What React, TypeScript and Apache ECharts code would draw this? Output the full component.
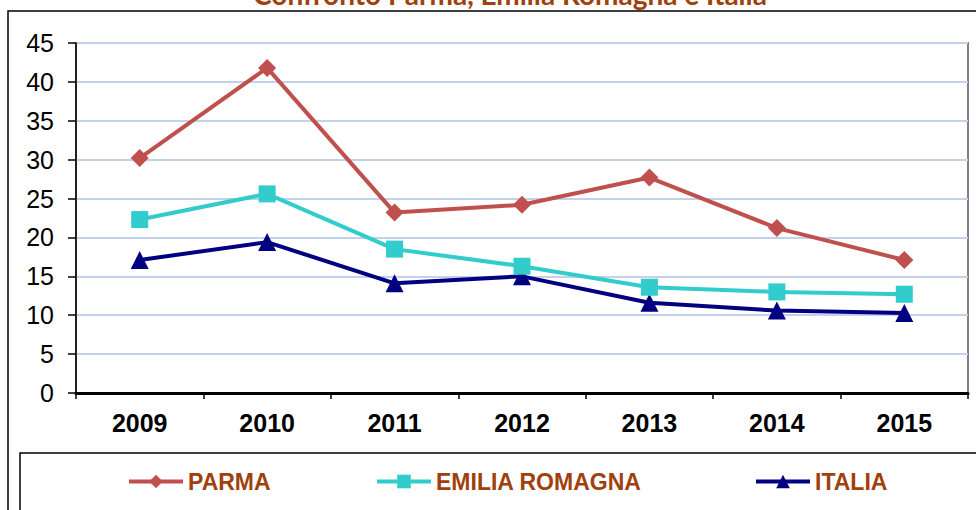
import React, { useEffect, useRef } from "react";
import * as echarts from "echarts";

const title = "Confronto Parma, Emilia Romagna e Italia";
const years = ["2009", "2010", "2011", "2012", "2013", "2014", "2015"];
const parma = [30.2, 41.8, 23.2, 24.2, 27.7, 21.2, 17.1];
const emilia = [22.3, 25.6, 18.5, 16.3, 13.6, 13.0, 12.7];
const italia = [17.1, 19.4, 14.1, 15.0, 11.6, 10.6, 10.3];
const seriesNames = ["PARMA", "EMILIA ROMAGNA", "ITALIA"];
const colors = ["#C0504D", "#33CCCC", "#000080"];
const symbols = ["diamond", "rect", "triangle"];

export default function App() {
  const ref = useRef<HTMLDivElement>(null);
  useEffect(() => {
    const chart = echarts.init(ref.current!, null, { renderer: "svg" });
    const data = [parma, emilia, italia];
    const legendLefts = [122, 370, 749];
    const font = "'Liberation Sans', Arial, sans-serif";
    chart.setOption({
      animation: false,
      backgroundColor: "#fff",
      graphic: [
        {
          type: "rect",
          shape: { x: 8, y: 11, width: 1000, height: 600 },
          style: { fill: "none", stroke: "#000", lineWidth: 1.5 },
          z: 0,
        },
        {
          type: "rect",
          shape: { x: 20, y: 453, width: 1000, height: 100 },
          style: { fill: "none", stroke: "#000", lineWidth: 1.5 },
          z: 0,
        },
        {
          type: "text",
          x: 510,
          y: 8,
          style: {
            text: title,
            fill: "#A0410D",
            font: "bold 28px Lato, 'Open Sans', sans-serif",
            align: "center",
            verticalAlign: "bottom",
          },
        },
      ],
      grid: {
        left: 76,
        top: 43,
        right: 8,
        bottom: 117,
        show: true,
        borderColor: "#808080",
        borderWidth: 2,
        backgroundColor: "transparent",
      },
      legend: seriesNames.map((n, i) => ({
        data: [n],
        left: legendLefts[i],
        top: 465,
        itemWidth: 54,
        itemHeight: 17,
        itemGap: 0,
        lineStyle: { width: 4 },
        textStyle: {
          color: "#A0410D",
          fontWeight: "bold",
          fontSize: 23,
          fontFamily: font,
          padding: [0, 0, 0, 0],
        },
      })),
      xAxis: {
        type: "category",
        data: years,
        boundaryGap: true,
        axisLine: { lineStyle: { color: "#000", width: 3 } },
        axisTick: { show: true, length: 6, lineStyle: { color: "#000", width: 1.5 } },
        axisLabel: {
          color: "#000",
          fontWeight: "bold",
          fontSize: 25,
          fontFamily: font,
          margin: 17,
        },
      },
      yAxis: {
        type: "value",
        min: 0,
        max: 45,
        interval: 5,
        axisLine: { show: true, lineStyle: { color: "#000", width: 1.5 } },
        axisTick: { show: true, length: 8, lineStyle: { color: "#000", width: 1.5 } },
        axisLabel: {
          color: "#000",
          fontSize: 25,
          fontFamily: font,
          margin: 22,
        },
        splitLine: { lineStyle: { color: "#C3D1EA", width: 2 } },
      },
      series: seriesNames.map((n, i) => ({
        name: n,
        type: "line",
        data: data[i],
        symbol: symbols[i],
        symbolSize: i === 1 ? 17 : 18,
        showSymbol: true,
        lineStyle: { color: colors[i], width: 4 },
        itemStyle: { color: colors[i] },
        z: 5 - i,
      })),
    });
    return () => chart.dispose();
  }, []);
  return <div ref={ref} style={{ width: 976, height: 510, position: "absolute", left: 0, top: 0 }} />;
}
